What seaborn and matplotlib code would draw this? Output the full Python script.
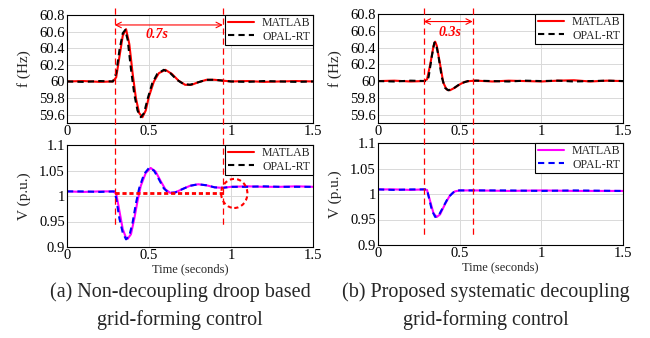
import numpy as np
import seaborn as sns
import matplotlib
matplotlib.use("Agg")
import matplotlib.pyplot as plt
from matplotlib.lines import Line2D
from matplotlib.patches import Ellipse
from matplotlib.transforms import blended_transform_factory

# ---- data ----
# (a) non-decoupling, frequency
t_fa_mat = [0, 0.1, 0.2, 0.28, 0.30, 0.32, 0.34, 0.36, 0.38, 0.40, 0.42, 0.44, 0.46, 0.48, 0.50,
            0.53, 0.56, 0.60, 0.64, 0.68, 0.72, 0.76, 0.80, 0.85, 0.90, 0.95, 1.0, 1.1, 1.2, 1.3, 1.4, 1.5]
f_fa_mat = [60.0, 60.005, 59.995, 60.0, 60.05, 60.3, 60.55, 60.63, 60.45, 60.1, 59.8, 59.62, 59.57, 59.65, 59.82,
            60.0, 60.1, 60.14, 60.09, 60.01, 59.96, 59.96, 59.99, 60.02, 60.02, 60.01, 60.0, 60.005, 59.995, 60.0, 60.005, 60.0]
t_fa_opal = [0, 0.1, 0.2, 0.28, 0.30, 0.32, 0.34, 0.355, 0.37, 0.39, 0.41, 0.43, 0.45, 0.47, 0.49, 0.52,
             0.55, 0.59, 0.63, 0.67, 0.71, 0.75, 0.80, 0.85, 0.90, 0.95, 1.0, 1.1, 1.2, 1.3, 1.4, 1.5]
f_fa_opal = [60.0, 59.995, 60.005, 60.0, 60.1, 60.38, 60.58, 60.62, 60.5, 60.15, 59.85, 59.65, 59.57, 59.62, 59.78, 59.98,
             60.09, 60.14, 60.1, 60.02, 59.97, 59.96, 59.99, 60.02, 60.02, 60.01, 60.0, 59.995, 60.005, 60.0, 59.995, 60.0]

# (b) proposed decoupling, frequency
t_fb_mat = [0, 0.1, 0.2, 0.28, 0.30, 0.32, 0.34, 0.35, 0.36, 0.38, 0.40, 0.42, 0.44, 0.47, 0.50,
            0.53, 0.56, 0.6, 0.7, 0.8, 0.9, 1.0, 1.1, 1.2, 1.3, 1.4, 1.5]
f_fb_mat = [60.0, 60.005, 59.995, 60.0, 60.02, 60.2, 60.42, 60.47, 60.42, 60.2, 59.98, 59.9, 59.89, 59.92, 59.96,
            59.99, 60.0, 60.005, 59.995, 60.005, 60.0, 59.995, 60.005, 60.01, 59.995, 60.005, 60.0]
t_fb_opal = [0, 0.1, 0.2, 0.30, 0.31, 0.33, 0.345, 0.355, 0.37, 0.39, 0.41, 0.43, 0.46, 0.49, 0.52,
             0.55, 0.6, 0.7, 0.8, 0.9, 1.0, 1.1, 1.2, 1.3, 1.4, 1.5]
f_fb_opal = [60.0, 59.995, 60.005, 60.0, 60.05, 60.3, 60.46, 60.45, 60.3, 60.05, 59.92, 59.89, 59.91, 59.95, 59.98,
             60.0, 60.005, 60.0, 59.995, 60.005, 60.0, 60.005, 59.995, 60.0, 60.005, 60.0]

# (a) voltage
t_va_mat = [0, 0.1, 0.2, 0.28, 0.30, 0.32, 0.34, 0.36, 0.37, 0.39, 0.41, 0.43, 0.45, 0.48, 0.51, 0.54,
            0.57, 0.60, 0.63, 0.66, 0.70, 0.75, 0.80, 0.85, 0.90, 0.95, 1.0, 1.1, 1.2, 1.3, 1.4, 1.5]
v_va_mat = [1.009, 1.008, 1.009, 1.009, 1.005, 0.97, 0.935, 0.918, 0.916, 0.925, 0.955, 0.99, 1.02, 1.045, 1.055, 1.048,
            1.03, 1.013, 1.006, 1.007, 1.013, 1.02, 1.023, 1.021, 1.017, 1.016, 1.018, 1.019, 1.018, 1.018, 1.019, 1.018]
t_va_opal = [0, 0.1, 0.2, 0.29, 0.30, 0.32, 0.34, 0.36, 0.38, 0.40, 0.42, 0.44, 0.47, 0.50, 0.53, 0.56,
             0.59, 0.62, 0.66, 0.70, 0.75, 0.80, 0.85, 0.90, 0.95, 1.0, 1.1, 1.2, 1.3, 1.4, 1.5]
v_va_opal = [1.009, 1.009, 1.008, 1.009, 0.995, 0.955, 0.928, 0.915, 0.922, 0.948, 0.985, 1.015, 1.043, 1.055, 1.05, 1.033,
             1.015, 1.006, 1.007, 1.013, 1.02, 1.023, 1.021, 1.017, 1.016, 1.018, 1.018, 1.019, 1.018, 1.018, 1.018]

# (b) voltage
t_vb_mat = [0, 0.1, 0.2, 0.28, 0.30, 0.32, 0.34, 0.36, 0.38, 0.41, 0.44, 0.47, 0.50, 0.6, 0.8, 1.0, 1.2, 1.5]
v_vb_mat = [1.009, 1.009, 1.008, 1.009, 1.008, 0.985, 0.962, 0.955, 0.96, 0.98, 0.997, 1.005, 1.007, 1.007, 1.006, 1.007, 1.006, 1.006]
t_vb_opal = [0, 0.1, 0.2, 0.30, 0.31, 0.33, 0.35, 0.37, 0.40, 0.43, 0.46, 0.49, 0.6, 0.8, 1.0, 1.2, 1.5]
v_vb_opal = [1.009, 1.008, 1.009, 1.009, 0.995, 0.968, 0.955, 0.957, 0.975, 0.993, 1.003, 1.007, 1.007, 1.007, 1.006, 1.007, 1.006]

# event markers (s)
marks_a = [0.29, 0.95]
marks_b = [0.28, 0.58]

x_ticks = [0, 0.5, 1, 1.5]
x_ticklabels = ["0", "0.5", "1", "1.5"]
f_ticks = [59.6, 59.8, 60, 60.2, 60.4, 60.6, 60.8]
f_ticklabels = ["59.6", "59.8", "60", "60.2", "60.4", "60.6", "60.8"]
v_ticks = [0.9, 0.95, 1.0, 1.05, 1.1]
v_ticklabels = ["0.9", "0.95", "1", "1.05", "1.1"]

sns.set_style("whitegrid")
plt.rcParams["font.family"] = ["Liberation Serif", "DejaVu Serif"]

fig = plt.figure(figsize=(6.5, 3.38), dpi=100)
W, H = 650, 338


def px_axes(l, t, r, b):
    return fig.add_axes([l / W, 1 - b / H, (r - l) / W, (b - t) / H])


ax_fa = px_axes(67, 15, 313, 123)
ax_va = px_axes(67, 145, 313, 247)
ax_fb = px_axes(378, 14, 623, 123)
ax_vb = px_axes(378, 143, 623, 245)


def style(ax, ylim, yt, ytl, ylabel, xlabel=None):
    ax.set_xlim(0, 1.5)
    ax.set_ylim(*ylim)
    ax.set_xticks(x_ticks)
    ax.set_xticklabels(x_ticklabels)
    ax.set_yticks(yt)
    ax.set_yticklabels(ytl)
    ax.grid(True, color="#d9d9d9", lw=0.7)
    for s in ax.spines.values():
        s.set_color("black")
        s.set_linewidth(0.8)
    ax.tick_params(direction="in", length=3, width=0.6, labelsize=10.5, pad=1.5, colors="black")
    ax.set_ylabel(ylabel, fontsize=11)
    ax.yaxis.set_label_coords(-36 / 246, 0.5)
    if xlabel:
        ax.set_xlabel(xlabel, fontsize=9, labelpad=1)
    else:
        ax.set_xlabel("")


def legend(ax, c1, c2):
    h = [Line2D([], [], color=c1, lw=1.5), Line2D([], [], color=c2, lw=1.5, ls=(0, (3, 2)))]
    lg = ax.legend(h, ["MATLAB", "OPAL-RT"], loc="upper right", fontsize=8.5, borderaxespad=0,
                   frameon=True, fancybox=False, framealpha=1, edgecolor="black",
                   labelspacing=0.1, borderpad=0.2, handlelength=2.2, handletextpad=0.7)
    lg.get_frame().set_linewidth(0.8)


dash = (0, (3, 2))

sns.lineplot(x=t_fa_mat, y=f_fa_mat, ax=ax_fa, color="red", lw=1.5)
sns.lineplot(x=t_fa_opal, y=f_fa_opal, ax=ax_fa, color="black", lw=1.5, linestyle=dash)
sns.lineplot(x=t_fb_mat, y=f_fb_mat, ax=ax_fb, color="red", lw=1.5)
sns.lineplot(x=t_fb_opal, y=f_fb_opal, ax=ax_fb, color="black", lw=1.5, linestyle=dash)
sns.lineplot(x=t_va_mat, y=v_va_mat, ax=ax_va, color="magenta", lw=1.5)
sns.lineplot(x=t_va_opal, y=v_va_opal, ax=ax_va, color="blue", lw=1.5, linestyle=dash)
sns.lineplot(x=t_vb_mat, y=v_vb_mat, ax=ax_vb, color="magenta", lw=1.5)
sns.lineplot(x=t_vb_opal, y=v_vb_opal, ax=ax_vb, color="blue", lw=1.5, linestyle=dash)

style(ax_fa, (59.5, 60.8), f_ticks, f_ticklabels, "f (Hz)")
style(ax_fb, (59.5, 60.8), f_ticks, f_ticklabels, "f (Hz)")
style(ax_va, (0.9, 1.1), v_ticks, v_ticklabels, "V (p.u.)", "Time (seconds)")
style(ax_vb, (0.9, 1.1), v_ticks, v_ticklabels, "V (p.u.)", "Time (seconds)")

legend(ax_fa, "red", "black")
legend(ax_va, "red", "black")   # reference repeats the upper legend here
legend(ax_fb, "red", "black")
legend(ax_vb, "magenta", "blue")

# red dotted pre-fault level and the circled offset in (a)
ax_va.plot([marks_a[0], 0.97], [1.006, 1.006], color="red", lw=2, ls=(0, (1.5, 1)))
ax_va.add_patch(Ellipse((1.02, 1.005), 0.16, 0.057, fill=False, ec="red", lw=1.5, ls=(0, (2, 1.5)),
                        zorder=6))

# vertical event lines spanning both panels
for ax, xs, ybot in [(ax_fa, marks_a, 228), (ax_fb, marks_b, 235)]:
    tr = blended_transform_factory(ax.transData, fig.transFigure)
    for x in xs:
        fig.add_artist(Line2D([x, x], [1 - 8 / H, 1 - ybot / H], transform=tr, color="red",
                              lw=0.9, ls=(0, (5, 3))))

ax_fa.annotate("", xy=(marks_a[0], 60.68), xytext=(marks_a[1], 60.68),
               arrowprops=dict(arrowstyle="<->", color="red", lw=0.8, shrinkA=0, shrinkB=0))
ax_fa.text(0.55, 60.57, "0.7s", color="red", fontsize=10, fontweight="bold", fontstyle="italic",
           ha="center", va="center")
ax_fb.annotate("", xy=(marks_b[0], 60.71), xytext=(marks_b[1], 60.71),
               arrowprops=dict(arrowstyle="<->", color="red", lw=0.8, shrinkA=0, shrinkB=0))
ax_fb.text(0.44, 60.58, "0.3s", color="red", fontsize=10, fontweight="bold", fontstyle="italic",
           ha="center", va="center")

# captions
fig.text(180 / W, 1 - 292 / H, "(a) Non-decoupling droop based", ha="center", va="center", fontsize=14.5)
fig.text(180 / W, 1 - 320 / H, "grid-forming control", ha="center", va="center", fontsize=14.5)
fig.text(486 / W, 1 - 292 / H, "(b) Proposed systematic decoupling", ha="center", va="center", fontsize=14.5)
fig.text(486 / W, 1 - 320 / H, "grid-forming control", ha="center", va="center", fontsize=14.5)

fig.savefig("out.png", dpi=100, facecolor="white")
